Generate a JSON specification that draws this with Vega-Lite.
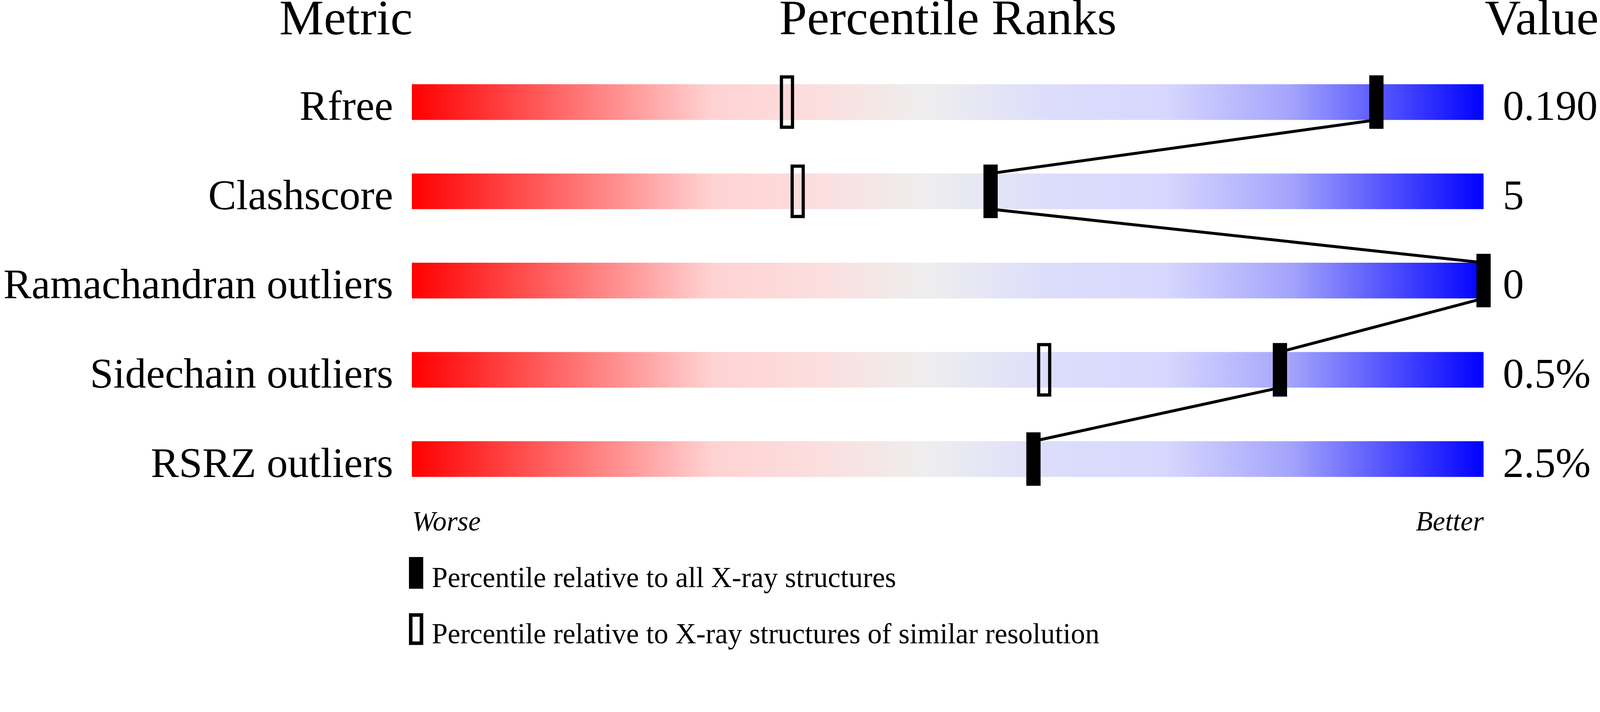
{
  "$schema": "https://vega.github.io/schema/vega-lite/v6.json",
  "autosize": {"type": "none"},
  "padding": {"left": 1054.4, "top": 147.2, "right": 303.6, "bottom": 377.7},
  "width": 2743.5,
  "height": 1143.1,
  "background": "white",
  "config": {"font": "Liberation Serif", "view": {"stroke": null}},
  "datasets": {
    "metrics": [
      {"metric": "Rfree", "value": "0.190"},
      {"metric": "Clashscore", "value": "5"},
      {"metric": "Ramachandran outliers", "value": "0"},
      {"metric": "Sidechain outliers", "value": "0.5%"},
      {"metric": "RSRZ outliers", "value": "2.5%"}
    ],
    "ranks": [
      {"metric": "Rfree", "percentile": 35, "relative": "Percentile relative to X-ray structures of similar resolution"},
      {"metric": "Clashscore", "percentile": 36, "relative": "Percentile relative to X-ray structures of similar resolution"},
      {"metric": "Sidechain outliers", "percentile": 59, "relative": "Percentile relative to X-ray structures of similar resolution"},
      {"metric": "Rfree", "percentile": 90, "relative": "Percentile relative to all X-ray structures"},
      {"metric": "Clashscore", "percentile": 54, "relative": "Percentile relative to all X-ray structures"},
      {"metric": "Ramachandran outliers", "percentile": 100, "relative": "Percentile relative to all X-ray structures"},
      {"metric": "Sidechain outliers", "percentile": 81, "relative": "Percentile relative to all X-ray structures"},
      {"metric": "RSRZ outliers", "percentile": 58, "relative": "Percentile relative to all X-ray structures"}
    ],
    "links": [
      {"from": "Rfree", "to": "Clashscore", "p_from": 90, "p_to": 54},
      {"from": "Clashscore", "to": "Ramachandran outliers", "p_from": 54, "p_to": 100},
      {"from": "Ramachandran outliers", "to": "Sidechain outliers", "p_from": 100, "p_to": 81},
      {"from": "Sidechain outliers", "to": "RSRZ outliers", "p_from": 81, "p_to": 58}
    ]
  },
  "layer": [
    {
      "data": {"name": "metrics"},
      "mark": {
        "type": "bar",
        "color": {
          "gradient": "linear",
          "x1": 0, "x2": 1, "y1": 0, "y2": 0,
          "stops": [
            {"offset": 0, "color": "#ff0000"},
            {"offset": 0.28, "color": "#ffd2d2"},
            {"offset": 0.38, "color": "#fcdede"},
            {"offset": 0.48, "color": "#eeeeee"},
            {"offset": 0.6, "color": "#dcdcfc"},
            {"offset": 0.7, "color": "#d8d8ff"},
            {"offset": 0.82, "color": "#a4a4fc"},
            {"offset": 1, "color": "#0000ff"}
          ]
        }
      },
      "encoding": {
        "x": {"datum": 0, "type": "quantitative", "scale": {"domain": [0, 100], "nice": false}, "axis": null},
        "x2": {"datum": 100},
        "y": {
          "field": "metric", "type": "nominal",
          "scale": {"domain": ["Rfree", "Clashscore", "Ramachandran outliers", "Sidechain outliers", "RSRZ outliers"], "paddingInner": 0.6, "paddingOuter": 0.3},
          "axis": {
            "orient": "left", "domain": false, "ticks": false, "tickSize": 0, "grid": false,
            "labelPadding": 48.5, "labelFontSize": 107.9, "labelAlign": "right", "labelBaseline": "alphabetic",
            "labelOffset": 45.7, "labelColor": "black", "labelLimit": 3000,
            "title": "Metric", "titleAngle": 0, "titleX": -169.2, "titleY": -59.4, "titleAlign": "center",
            "titleBaseline": "alphabetic", "titleFontSize": 128, "titleFontWeight": "normal", "titleColor": "black"
          }
        }
      }
    },
    {
      "data": {"name": "links"},
      "mark": {"type": "rule", "strokeWidth": 7.5, "color": "black"},
      "encoding": {
        "x": {
          "field": "p_from", "type": "quantitative", "scale": {"domain": [0, 100], "nice": false},
          "axis": {
            "orient": "top", "labels": false, "ticks": false, "domain": false, "grid": false,
            "title": "Percentile Ranks", "titleX": 1371.75, "titleY": -59.4, "titleAlign": "center", "titleAngle": 0,
            "titleBaseline": "alphabetic", "titleFontSize": 128, "titleFontWeight": "normal", "titleColor": "black"
          }
        },
        "x2": {"field": "p_to"},
        "y": {"field": "from", "type": "nominal", "bandPosition": 1, "axis": null},
        "y2": {"field": "to", "bandPosition": 0}
      }
    },
    {
      "data": {"name": "ranks"},
      "mark": {"type": "tick", "orient": "vertical", "thickness": 28.3, "size": 128.9, "stroke": "black", "strokeWidth": 8.2, "opacity": 1},
      "encoding": {
        "x": {
          "field": "percentile", "type": "quantitative", "scale": {"domain": [0, 100], "nice": false},
          "axis": {
            "orient": "bottom", "values": [0, 100], "labelExpr": "datum.value == 0 ? 'Worse' : 'Better'",
            "labelFlush": true, "labelFontStyle": "italic", "labelFontSize": 71.3, "labelBaseline": "alphabetic",
            "labelPadding": 68.6, "labelLimit": 1000, "labelColor": "black", "domain": false, "ticks": false, "tickSize": 0, "grid": false, "title": null
          }
        },
        "y": {"field": "metric", "type": "nominal", "axis": null},
        "fill": {
          "field": "relative", "type": "nominal",
          "scale": {
            "domain": ["Percentile relative to all X-ray structures", "Percentile relative to X-ray structures of similar resolution"],
            "range": ["black", "transparent"]
          },
          "legend": {
            "title": null, "orient": "none", "legendX": -30.2, "legendY": 1315.5, "direction": "vertical",
            "symbolType": "M-0.38,-2H0.38V0H-0.38Z", "symbolSize": 5215, "symbolStrokeWidth": 9.1, "symbolStrokeColor": "black",
            "labelFontSize": 73.2, "labelFont": "Liberation Serif", "labelLimit": 3000, "labelOffset": -0.9,
            "labelBaseline": "alphabetic", "labelColor": "black", "rowPadding": 34, "padding": 0
          }
        }
      }
    },
    {
      "data": {"name": "metrics"},
      "mark": {"type": "text", "align": "left", "baseline": "alphabetic", "dx": 49.4, "dy": 45.7, "fontSize": 107.9, "color": "black"},
      "encoding": {
        "x": {"datum": 100, "type": "quantitative", "axis": null},
        "y": {
          "field": "metric", "type": "nominal",
          "axis": {
            "orient": "right", "labels": false, "ticks": false, "domain": false, "grid": false,
            "title": "Value", "titleX": 2.7, "titleY": -59.4, "titleAlign": "left", "titleAngle": 0,
            "titleBaseline": "alphabetic", "titleFontSize": 128, "titleFontWeight": "normal", "titleColor": "black"
          }
        },
        "text": {"field": "value"}
      }
    }
  ],
  "resolve": {"axis": {"x": "independent", "y": "independent"}}
}
